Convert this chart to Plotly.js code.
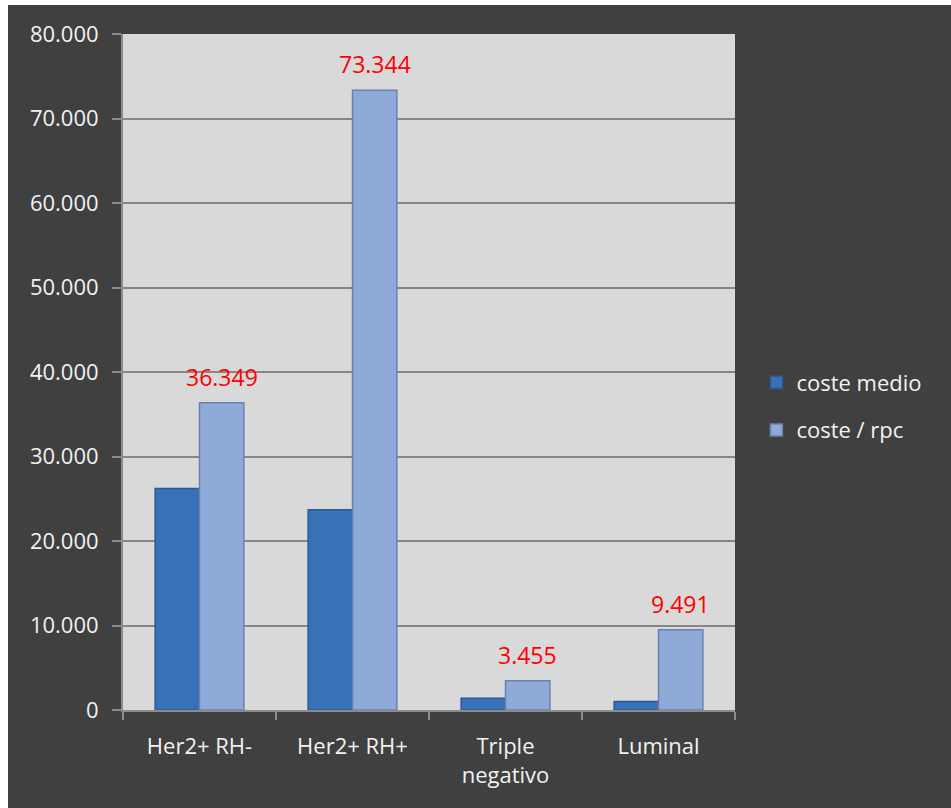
<!DOCTYPE html>
<html>
<head>
<meta charset="utf-8">
<script src="https://cdn.plot.ly/plotly-3.0.1.min.js"></script>
<style>
html, body { margin: 0; padding: 0; background: #ffffff; }
#chart { position: absolute; left: 8px; top: 5px; width: 943px; height: 803px; }
</style>
</head>
<body>
<div id="chart"></div>
<script>
const categories = ["Her2+ RH-", "Her2+ RH+", "Triple<br>negativo", "Luminal"];
const costeMedio = [26200, 23700, 1400, 1000];
const costeRpc = [36349, 73344, 3455, 9491];
const rpcLabels = ["36.349", "73.344", "3.455", "9.491"];
const yTicks = [0, 10000, 20000, 30000, 40000, 50000, 60000, 70000, 80000];

const fontFam = "'Open Sans', 'Noto Sans', sans-serif";

const traces = [
  {
    type: "bar", name: "coste medio", x: categories, y: costeMedio,
    legendgroup: "a",
    marker: { color: "#3871b8", line: { color: "#2b5b96", width: 1.5 } },
    hoverinfo: "skip"
  },
  {
    type: "bar", name: "coste / rpc", x: categories, y: costeRpc,
    legendgroup: "b",
    marker: { color: "#8fa9d9", line: { color: "#6a82ad", width: 1.5 } },
    hoverinfo: "skip"
  }
];

const annotations = categories.map((c, i) => ({
  x: c, y: costeRpc[i], xref: "x", yref: "y",
  text: rpcLabels[i], showarrow: false,
  xshift: 22, yshift: 8, yanchor: "bottom",
  font: { family: fontFam, size: 23, color: "#ff0000" }
}));

const layout = {
  width: 943, height: 803,
  paper_bgcolor: "#404040",
  plot_bgcolor: "#d9d9d9",
  separators: ",.",
  margin: { l: 115, r: 216, t: 29, b: 98 },
  bargap: 0.42, bargroupgap: 0,
  barmode: "group",
  font: { family: fontFam, size: 22, color: "#f2f2f2" },
  xaxis: {
    showgrid: false, showline: true, linecolor: "#8c8c8c", linewidth: 2,
    ticks: "outside", tickson: "boundaries", ticklen: 8, tickcolor: "#8c8c8c", tickwidth: 2,
    tickfont: { family: fontFam, size: 22, color: "#f2f2f2" },
    ticklabelstandoff: 16
  },
  yaxis: {
    range: [0, 80000], tickvals: yTicks, tickformat: ",d",
    showgrid: true, gridcolor: "#868686", gridwidth: 2,
    showline: true, linecolor: "#8c8c8c", linewidth: 2,
    ticks: "outside", ticklen: 9, tickcolor: "#8c8c8c", tickwidth: 2,
    tickfont: { family: fontFam, size: 22, color: "#f2f2f2" },
    ticklabelstandoff: 9, zeroline: false
  },
  legend: {
    x: 1.035, y: 0.449, xanchor: "left", yanchor: "middle",
    font: { family: fontFam, size: 22, color: "#f2f2f2" },
    traceorder: "grouped", tracegroupgap: 16,
    bgcolor: "rgba(0,0,0,0)"
  },
  annotations: annotations,
  showlegend: true
};

Plotly.newPlot("chart", traces, layout, { displayModeBar: false, staticPlot: true });
</script>
</body>
</html>
